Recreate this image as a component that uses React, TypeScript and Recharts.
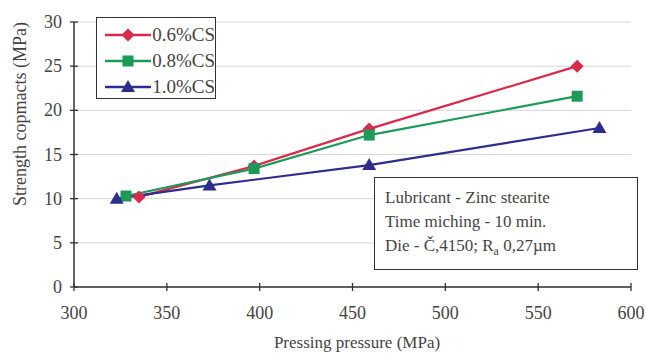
import { LineChart, Line, XAxis, YAxis, CartesianGrid, Legend } from 'recharts'

// pressing pressure (MPa) / strength (MPa) per CS content
const pressure06 = [335, 397, 459, 571]
const strength06 = [10.2, 13.7, 17.9, 25.0]
const pressure08 = [328, 397, 459, 571]
const strength08 = [10.3, 13.4, 17.2, 21.6]
const pressure10 = [323, 373, 459, 583]
const strength10 = [10.0, 11.5, 13.8, 18.0]

const xTicks = [300, 350, 400, 450, 500, 550, 600]
const yTicks = [0, 5, 10, 15, 20, 25, 30]

const notes = ['Lubricant - Zinc stearite', 'Time miching - 10 min.']

const FONT = '"Liberation Serif", "Times New Roman", serif'
const AXIS = '#333'

const toPoints = (xs: number[], ys: number[]) => xs.map((x, i) => ({ x, y: ys[i] }))

type Shape = 'diamond' | 'square' | 'triangle'

const series: { name: string; color: string; shape: Shape; data: { x: number; y: number }[] }[] = [
  { name: '0.6%CS', color: '#d92a4c', shape: 'diamond', data: toPoints(pressure06, strength06) },
  { name: '0.8%CS', color: '#1d9a58', shape: 'square', data: toPoints(pressure08, strength08) },
  { name: '1.0%CS', color: '#2d2e8c', shape: 'triangle', data: toPoints(pressure10, strength10) },
]

function Marker({ cx, cy, shape, color }: { cx: number; cy: number; shape: Shape; color: string }) {
  if (shape === 'diamond')
    return <path d={`M${cx},${cy - 6.5}L${cx + 6.5},${cy}L${cx},${cy + 6.5}L${cx - 6.5},${cy}Z`} fill={color} />
  if (shape === 'square')
    return <rect x={cx - 5.5} y={cy - 5.5} width={11} height={11} fill={color} />
  return <path d={`M${cx},${cy - 7}L${cx + 7},${cy + 5}L${cx - 7},${cy + 5}Z`} fill={color} />
}

const XTick = (props: any) => {
  const x = props.payload.coordinate
  return (
    <g>
      <line x1={x} x2={x} y1={283} y2={291} stroke={AXIS} strokeWidth={1.3} />
      <text x={x} y={319} textAnchor="middle" fontFamily={FONT} fontSize={18} fill="#444">
        {props.payload.value}
      </text>
    </g>
  )
}

const YTick = (props: any) => {
  const y = props.payload.coordinate
  return (
    <g>
      <line x1={70} x2={78} y1={y} y2={y} stroke={AXIS} strokeWidth={1.3} />
      <text x={62} y={y + 6} textAnchor="end" fontFamily={FONT} fontSize={18} fill="#444">
        {props.payload.value}
      </text>
    </g>
  )
}

const LegendBox = () => (
  <div
    style={{
      width: 120,
      height: 82,
      border: '1.5px solid #333',
      background: '#fff',
      fontFamily: FONT,
      fontSize: 19,
      color: '#444',
      boxSizing: 'border-box',
      paddingTop: 4,
    }}
  >
    {series.map(s => (
      <div key={s.name} style={{ display: 'flex', alignItems: 'center', height: 26 }}>
        <svg width={54} height={20} style={{ marginLeft: 6 }}>
          <line x1={2} x2={48} y1={10} y2={10} stroke={s.color} strokeWidth={2.5} />
          <Marker cx={25} cy={10} shape={s.shape} color={s.color} />
        </svg>
        <span style={{ lineHeight: '20px' }}>{s.name}</span>
      </div>
    ))}
  </div>
)

export default function App() {
  return (
    <div style={{ position: 'absolute', left: 0, top: 0, width: 646, height: 356, background: '#fff' }}>
      <LineChart width={646} height={356} margin={{ top: 22, right: 15, bottom: 0, left: 0 }}>
        <CartesianGrid horizontal vertical={false} stroke="#d6d6d6" strokeWidth={1} />
        <XAxis
          type="number"
          dataKey="x"
          domain={[300, 600]}
          ticks={xTicks}
          height={69}
          stroke={AXIS}
          strokeWidth={1.5}
          tickLine={false}
          tick={XTick}
          allowDuplicatedCategory={false}
          label={() => (
            <text x={357} y={348} textAnchor="middle" fontFamily={FONT} fontSize={17} fill="#444">
              Pressing pressure (MPa)
            </text>
          )}
        />
        <YAxis
          type="number"
          domain={[0, 30]}
          ticks={yTicks}
          width={74}
          stroke={AXIS}
          strokeWidth={1.5}
          tickLine={false}
          tick={YTick}
          label={() => (
            <text
              x={20}
              y={114}
              transform="rotate(-90 20 114)"
              textAnchor="middle"
              dominantBaseline="central"
              fontFamily={FONT}
              fontSize={18}
              fill="#444"
            >
              Strength copmacts (MPa)
            </text>
          )}
        />
        <Legend
          layout="horizontal"
          verticalAlign="middle"
          content={LegendBox}
          wrapperStyle={{ position: 'absolute', left: 96, top: 17, width: 120, height: 82 }}
        />
        {series.map(s => (
          <Line
            key={s.name}
            name={s.name}
            data={s.data}
            dataKey="y"
            type="linear"
            stroke={s.color}
            strokeWidth={2.2}
            isAnimationActive={false}
            dot={(p: any) => <Marker key={p.index} cx={p.cx} cy={p.cy} shape={s.shape} color={s.color} />}
            activeDot={false}
          />
        ))}
      </LineChart>
      <div
        style={{
          position: 'absolute',
          left: 374,
          top: 177,
          width: 264,
          height: 93,
          border: '1.5px solid #333',
          background: '#fff',
          boxSizing: 'border-box',
          fontFamily: FONT,
          fontSize: 17,
          color: '#444',
          padding: '8px 0 0 10px',
          lineHeight: '24px',
        }}
      >
        {notes.map(n => (
          <div key={n}>{n}</div>
        ))}
        <div>
          Die - Č,4150; R<sub style={{ fontSize: 12, verticalAlign: 'sub', lineHeight: 0 }}>a</sub> 0,27µm
        </div>
      </div>
    </div>
  )
}
